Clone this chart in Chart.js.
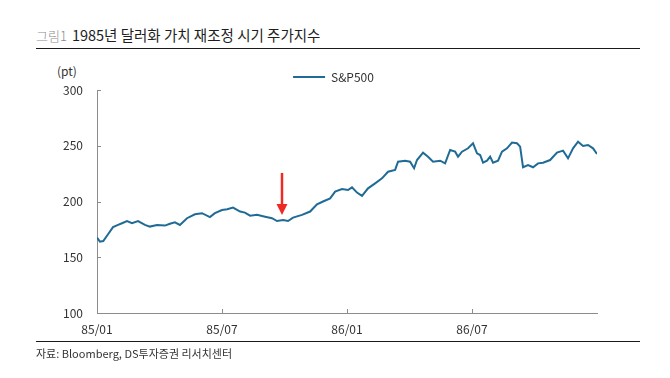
<!DOCTYPE html>
<html>
<head>
<meta charset="utf-8">
<script src="https://cdn.jsdelivr.net/npm/chart.js@4"></script>
<style>
  body { margin: 0; background: #fff; font-family: "Noto Sans CJK KR", "Noto Sans", sans-serif; }
  #wrap { position: relative; width: 670px; height: 378px; overflow: hidden; }
  #c { position: absolute; left: 0; top: 0; }
  .title { position: absolute; left: 36px; top: 26px; line-height: 17px; white-space: nowrap; }
  .title .no { font-size: 13px; color: #8c8c8c; font-weight: 300; margin-right: 5px; }
  .title .txt { font-size: 14.5px; color: #1e1e1e; }
  .rule { position: absolute; left: 36px; width: 604px; height: 1px; background: #1a1a1a; }
  .unit { position: absolute; left: 57px; top: 63px; font-size: 12px; color: #333; line-height: 16px; }
  .src { position: absolute; left: 36px; top: 345px; font-size: 11px; color: #333; line-height: 16px; white-space: nowrap; }
</style>
</head>
<body>
<div id="wrap">
  <div class="title"><span class="no">그림1</span><span class="txt">1985년 달러화 가치 재조정 시기 주가지수</span></div>
  <div class="rule" style="top:48px"></div>
  <div class="unit">(pt)</div>
  <canvas id="c" width="670" height="378"></canvas>
  <div class="rule" style="top:341px"></div>
  <div class="src">자료: Bloomberg, DS투자증권 리서치센터</div>
</div>
<script>
// S&P500, 1985/01 ~ 1986/12 (x = months since 85/01)
const months = [
  0, 0.14, 0.3, 0.53, 0.77, 1.01, 1.2, 1.44, 1.68, 1.97, 2.3, 2.54, 2.88, 3.26, 3.5, 3.74, 3.98,
  4.32, 4.7, 5.04, 5.42, 5.66, 6.0, 6.25, 6.53, 6.87, 7.1, 7.35, 7.68, 8.07, 8.4, 8.64, 8.93,
  9.17, 9.41, 9.84, 10.23, 10.56, 10.85, 11.19, 11.43, 11.76, 12.05, 12.24, 12.48, 12.72, 13.01,
  13.35, 13.68, 13.97, 14.31, 14.45, 14.79, 15.03, 15.22, 15.36, 15.65, 15.89, 16.13, 16.47,
  16.71, 16.95, 17.19, 17.33, 17.52, 17.81, 18.05, 18.24, 18.39, 18.53, 18.72, 18.87, 19.01,
  19.25, 19.44, 19.68, 19.92, 20.16, 20.31, 20.45, 20.69, 20.93, 21.17, 21.41, 21.75, 22.08,
  22.37, 22.61, 22.85, 23.09, 23.33, 23.57, 23.81, 24.0
];
const sp500 = [
  167.6, 164.0, 164.5, 170.6, 177.0, 179.0, 180.5, 182.5, 180.5, 182.5, 179.0, 177.5, 179.0, 178.4, 180.0, 181.3, 179.0,
  185.0, 188.5, 189.5, 186.0, 189.5, 192.4, 193.0, 194.5, 191.0, 190.0, 187.3, 188.0, 186.4, 185.0, 182.5, 183.4,
  182.5, 185.5, 188.0, 191.0, 197.5, 200.0, 202.8, 208.8, 211.2, 210.3, 212.7, 208.0, 205.0, 211.8,
  216.3, 220.8, 226.7, 228.3, 235.7, 236.6, 235.7, 229.8, 237.2, 243.8, 240.2, 235.7, 236.6,
  234.2, 246.2, 244.7, 240.2, 244.7, 247.7, 252.2, 243.2, 241.7, 234.8, 236.6, 240.2, 234.8,
  236.6, 244.7, 247.7, 252.8, 252.2, 249.2, 230.7, 232.7, 230.7, 234.2, 234.8, 237.2, 243.8,
  245.6, 238.7, 247.7, 253.7, 249.8, 250.7, 247.7, 242.6
];
const xTickLabels = ['85/01', '85/07', '86/01', '86/07', ''];
const seriesName = 'S&P500';
// 빨간 화살표 (x: 월, y: 지수)
const arrowMonth = 8.88;
const arrowFrom = 225.6;
const arrowTo = 188;

const lineColor = '#1f6b96';
const axisColor = '#8c8c8c';
const fontFamily = '"Noto Sans CJK KR", "Noto Sans", sans-serif';

const extras = {
  id: 'extras',
  afterLayout(chart) {
    // 범례를 플롯 중앙 쪽으로 조금 이동
    const lg = chart.legend;
    lg.left += 35; lg.right += 35;
    lg.top += 3; lg.bottom += 3;
  },
  afterDatasetsDraw(chart) {
    const ctx = chart.ctx;
    const xs = chart.scales.x, ys = chart.scales.y;
    const area = chart.chartArea;
    ctx.save();
    // inward tick marks
    ctx.strokeStyle = axisColor;
    ctx.lineWidth = 1;
    ys.ticks.forEach(t => {
      const py = Math.round(ys.getPixelForValue(t.value)) + 0.5;
      ctx.beginPath(); ctx.moveTo(area.left, py); ctx.lineTo(area.left + 4, py); ctx.stroke();
    });
    xs.ticks.forEach(t => {
      if (t.value >= 24) return;
      const px = Math.round(xs.getPixelForValue(t.value)) + 0.5;
      ctx.beginPath(); ctx.moveTo(px, area.bottom); ctx.lineTo(px, area.bottom - 4); ctx.stroke();
    });
    // red arrow
    const ax = xs.getPixelForValue(arrowMonth);
    const y0 = ys.getPixelForValue(arrowFrom);
    const y1 = ys.getPixelForValue(arrowTo);
    ctx.strokeStyle = '#ee2a24';
    ctx.fillStyle = '#ee2a24';
    ctx.lineWidth = 2.5;
    ctx.beginPath(); ctx.moveTo(ax, y0); ctx.lineTo(ax, y1 - 9); ctx.stroke();
    ctx.beginPath();
    ctx.moveTo(ax - 5.5, y1 - 11); ctx.lineTo(ax + 5.5, y1 - 11); ctx.lineTo(ax, y1); ctx.closePath();
    ctx.fill();
    ctx.restore();
  }
};

new Chart(document.getElementById('c'), {
  type: 'line',
  data: {
    datasets: [{
      label: seriesName,
      data: months.map((m, i) => ({ x: m, y: sp500[i] })),
      borderColor: lineColor,
      backgroundColor: lineColor,
      borderWidth: 2,
      pointRadius: 0,
      tension: 0
    }]
  },
  options: {
    responsive: false,
    animation: false,
    devicePixelRatio: 1,
    layout: { padding: { left: 0, right: 73, top: 60, bottom: 0 } },
    plugins: {
      legend: {
        display: true,
        position: 'top',
        labels: {
          usePointStyle: true,
          pointStyle: 'line',
          pointStyleWidth: 32,
          padding: 8,
          color: '#333',
          font: { family: fontFamily, size: 12 }
        }
      },
      tooltip: { enabled: false }
    },
    scales: {
      x: {
        type: 'linear',
        min: 0,
        max: 24,
        afterFit: s => { s.height = 65; },
        ticks: {
          stepSize: 6,
          padding: 9,
          color: '#333',
          font: { family: fontFamily, size: 12 },
          maxRotation: 0,
          callback: v => xTickLabels[v / 6]
        },
        grid: { drawOnChartArea: false, drawTicks: false },
        border: { color: axisColor, width: 1 }
      },
      y: {
        min: 100,
        max: 300,
        afterFit: s => { s.width = 97; },
        ticks: {
          stepSize: 50,
          padding: 14,
          color: '#333',
          font: { family: fontFamily, size: 12 }
        },
        grid: { drawOnChartArea: false, drawTicks: false },
        border: { color: axisColor, width: 1 }
      }
    }
  },
  plugins: [extras]
});
</script>
</body>
</html>
